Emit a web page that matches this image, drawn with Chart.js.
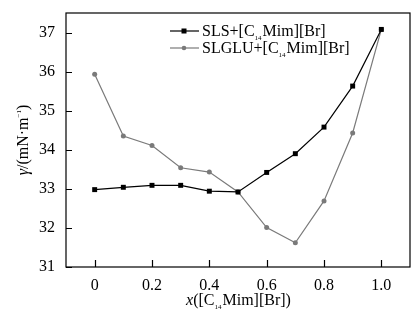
<!DOCTYPE html>
<html>
<head>
<meta charset="utf-8">
<script src="https://cdn.jsdelivr.net/npm/chart.js@4"></script>
<style>
  html, body { margin: 0; padding: 0; background: #fff; }
  #wrap { width: 419px; height: 324px; }
</style>
</head>
<body>
<div id="wrap"><canvas id="surfChart" width="419" height="324"></canvas></div>
<script>
// data
const molFrac = [0, 0.1, 0.2, 0.3, 0.4, 0.5, 0.6, 0.7, 0.8, 0.9, 1.0];
const slsGamma = [32.98, 33.04, 33.09, 33.09, 32.94, 32.92, 33.42, 33.90, 34.58, 35.63, 37.08];
const slgluGamma = [35.93, 34.35, 34.11, 33.54, 33.43, 32.92, 32.01, 31.62, 32.69, 34.43, 37.08];
const xTicks = [0, 0.2, 0.4, 0.6, 0.8, 1.0];
const yTicks = [31, 32, 33, 34, 35, 36, 37];
const seriesNames = ['SLS+[C', 'SLGLU+[C'];

const FONT = "'Liberation Serif', 'Times New Roman', serif";
const GRAY = '#7a7a7a';

// draws text made of pieces: {t, it, sub, sup}
function drawRich(ctx, parts, x, y, size, align) {
  const fontOf = p => {
    const s = (p.sub || p.sup) ? Math.round(size * 0.45) : size;
    return (p.it ? 'italic ' : '') + s + 'px ' + FONT;
  };
  let total = 0;
  parts.forEach(p => { ctx.font = fontOf(p); total += ctx.measureText(p.t).width; });
  let cx = align === 'center' ? x - total / 2 : x;
  ctx.textAlign = 'left';
  ctx.textBaseline = 'alphabetic';
  parts.forEach(p => {
    ctx.font = fontOf(p);
    let dy = 0;
    if (p.sub) dy = 4;
    if (p.sup) dy = -7;
    ctx.fillText(p.t, cx, y + dy);
    cx += ctx.measureText(p.t).width + (p.sub ? 1 : 0);
  });
}

const framePlugin = {
  id: 'frame',
  afterDraw(chart) {
    const { ctx, chartArea: a, scales } = chart;
    ctx.save();
    ctx.strokeStyle = '#000';
    ctx.lineWidth = 1.2;
    ctx.strokeRect(a.left, a.top, a.right - a.left, a.bottom - a.top);
    // inward ticks
    ctx.beginPath();
    scales.x.ticks.forEach(t => {
      const px = Math.round(scales.x.getPixelForValue(t.value)) + 0.5;
      ctx.moveTo(px, a.bottom);
      ctx.lineTo(px, a.bottom - 7);
    });
    scales.y.ticks.forEach(t => {
      const py = Math.round(scales.y.getPixelForValue(t.value)) + 0.5;
      ctx.moveTo(a.left, py);
      ctx.lineTo(a.left + 6, py);
    });
    ctx.stroke();

    ctx.fillStyle = '#000';
    // x title
    drawRich(ctx, [
      { t: 'x', it: true }, { t: '([C' }, { t: '14', sub: true }, { t: 'Mim][Br])' }
    ], (a.left + a.right) / 2, 305, 16, 'center');
    // y title
    ctx.save();
    ctx.translate(28, (a.top + a.bottom) / 2);
    ctx.rotate(-Math.PI / 2);
    drawRich(ctx, [
      { t: 'γ', it: true }, { t: '/(mN·m' }, { t: '−1', sup: true }, { t: ')' }
    ], 0, 0, 16, 'center');
    ctx.restore();

    // legend
    const rows = [
      { name: seriesNames[0], color: '#000', style: 'rect', y: 31 },
      { name: seriesNames[1], color: GRAY, style: 'circle', y: 48 }
    ];
    rows.forEach(r => {
      ctx.strokeStyle = r.color;
      ctx.fillStyle = r.color;
      ctx.lineWidth = 1.2;
      ctx.beginPath();
      ctx.moveTo(170, r.y);
      ctx.lineTo(199, r.y);
      ctx.stroke();
      if (r.style === 'rect') {
        ctx.fillRect(181.5, r.y - 2.5, 5, 5);
      } else {
        ctx.beginPath();
        ctx.arc(184, r.y, 2.3, 0, Math.PI * 2);
        ctx.fill();
      }
      ctx.fillStyle = '#000';
      drawRich(ctx, [
        { t: r.name }, { t: '14', sub: true }, { t: 'Mim][Br]' }
      ], 202, r.y + 5, 16, 'left');
    });
    ctx.restore();
  }
};

new Chart(document.getElementById('surfChart').getContext('2d'), {
  type: 'line',
  data: {
    datasets: [{
      label: 'SLS',
      data: molFrac.map((x, i) => ({ x: x, y: slsGamma[i] })),
      borderColor: '#000',
      backgroundColor: '#000',
      borderWidth: 1.2,
      pointStyle: 'rect',
      pointRadius: 3.5,
      pointBorderWidth: 0,
      tension: 0
    }, {
      label: 'SLGLU',
      data: molFrac.map((x, i) => ({ x: x, y: slgluGamma[i] })),
      borderColor: GRAY,
      backgroundColor: GRAY,
      borderWidth: 1.2,
      pointStyle: 'circle',
      pointRadius: 2.5,
      pointBorderWidth: 0,
      tension: 0
    }]
  },
  options: {
    responsive: false,
    animation: false,
    layout: { padding: { top: 13, right: 9, left: 0, bottom: 0 } },
    plugins: {
      legend: { display: false },
      tooltip: { enabled: false }
    },
    scales: {
      x: {
        type: 'linear',
        min: -0.1,
        max: 1.1,
        afterBuildTicks: s => { s.ticks = xTicks.map(v => ({ value: v })); },
        afterFit: s => { s.height = 57; s.paddingLeft = 0; s.paddingRight = 0; },
        grid: { display: false, drawTicks: false },
        border: { display: false },
        ticks: {
          padding: 9,
          color: '#000',
          maxRotation: 0,
          font: { family: FONT, size: 16 },
          callback: v => v === 0 ? '0' : v.toFixed(1)
        }
      },
      y: {
        min: 31,
        max: 37.5,
        afterBuildTicks: s => { s.ticks = yTicks.map(v => ({ value: v })); },
        afterFit: s => { s.width = 66; s.paddingTop = 0; s.paddingBottom = 0; },
        grid: { display: false, drawTicks: false },
        border: { display: false },
        ticks: {
          padding: 11,
          color: '#000',
          font: { family: FONT, size: 16 },
          callback: v => String(v)
        }
      }
    }
  },
  plugins: [framePlugin]
});
</script>
</body>
</html>
